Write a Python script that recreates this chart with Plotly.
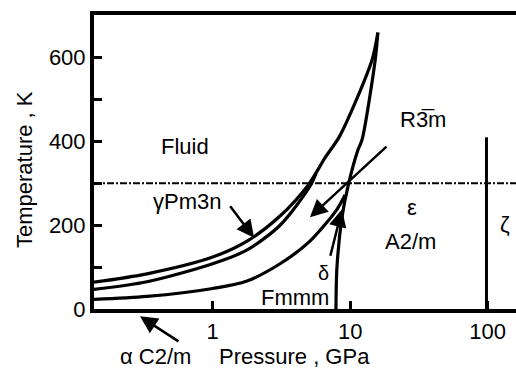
import numpy as np
import plotly.graph_objects as go

# Phase boundaries of solid oxygen (pressure in GPa, temperature in K)
P_MELT = [0.13, 0.333, 1.0, 1.78, 3.09, 4.93, 6.56, 8.43, 14.4, 15.9]
T_MELT = [63, 84, 124, 162, 222, 295, 361, 414, 594, 660]

P_GAMMA_BETA = [0.13, 0.333, 1.0, 1.78, 3.09, 5.1, 5.64]
T_GAMMA_BETA = [46, 65, 108, 141, 200, 293, 324]

P_ALPHA_BETA = [0.13, 0.333, 1.0, 1.78, 3.09, 5.1, 8.02, 9.17]
T_ALPHA_BETA = [22.5, 30, 49, 67, 108, 162, 238, 272]

P_EPSILON = [7.88, 8.02, 8.72, 9.64, 11.4, 12.2, 15.2, 15.9]
T_EPSILON = [0, 101, 219, 293, 380, 404, 594, 660]

P_ZETA = [98, 98]
T_ZETA = [0, 410]

T_ROOM = 300

# Arrow tips (P, T) for the labelled phase fields
GAMMA_TIP = (2.0, 170)
R3M_TIP = (5.1, 219)
DELTA_TIP = (8.72, 238)
ALPHA_TIP_P = 0.296

X_TICKS = [1, 10, 100]
X_TICK_TEXT = ["1", "10", "100"]

FONT = "Liberation Sans, Arial, sans-serif"
LW = 3.2

fig = go.Figure()

for px_, ty_ in [(P_MELT, T_MELT), (P_GAMMA_BETA, T_GAMMA_BETA),
                 (P_ALPHA_BETA, T_ALPHA_BETA), (P_EPSILON, T_EPSILON)]:
    fig.add_trace(go.Scatter(x=px_, y=ty_, mode="lines",
                             line=dict(color="black", width=LW, shape="spline", smoothing=0.8),
                             hoverinfo="skip"))

fig.add_trace(go.Scatter(x=P_ZETA, y=T_ZETA, mode="lines",
                         line=dict(color="black", width=3), hoverinfo="skip"))

fig.add_hline(y=T_ROOM, line=dict(color="black", width=2, dash="7px,2px,2px,2px"))

ann = []


def label(text, xp, yp, size=22, **kw):
    d = dict(text=text, x=xp, y=yp, xref="paper", yref="paper", showarrow=False,
             xanchor="center", yanchor="middle",
             font=dict(family=FONT, size=size, color="black"))
    d.update(kw)
    ann.append(d)


label("Fluid", 0.2156, 0.554)
label("γPm3n", 0.220, 0.364)
label("R3\u0305m", 0.780, 0.646)
label("ε", 0.754, 0.344)
label("A2/m", 0.749, 0.228)
label("ζ", 0.974, 0.286)
label("Fmmm", 0.476, 0.0408)
label("δ", 0.545, 0.1224, size=20)
label("α C2/m", 0.145, -0.163)
label("Pressure , GPa", 0.474, -0.163)
label("Temperature , K", -0.166, 0.476, textangle=-90)


def arrow(p, t, ax, ay, yref="y"):
    ann.append(dict(text="", x=np.log10(p), y=t, xref="x", yref=yref,
                    showarrow=True, arrowhead=2, arrowsize=1.4, arrowwidth=2.5,
                    arrowcolor="black", ax=ax, ay=ay, standoff=0))


arrow(GAMMA_TIP[0], GAMMA_TIP[1], -25, -33)
arrow(R3M_TIP[0], R3M_TIP[1], 78, -72)
arrow(DELTA_TIP[0], DELTA_TIP[1], -12, 48)
arrow(ALPHA_TIP_P, -0.025, 40, 26, yref="paper")

fig.update_layout(
    width=516, height=370,
    margin=dict(l=94, r=0, t=15, b=61),
    plot_bgcolor="white", paper_bgcolor="white",
    showlegend=False,
    font=dict(family=FONT, size=22, color="black"),
    annotations=ann,
    xaxis=dict(type="log", range=[-0.863, 2.206], showline=True, linewidth=4,
               linecolor="black", mirror=True, ticks="inside", ticklen=8,
               tickwidth=3, tickcolor="black", tickvals=X_TICKS, ticktext=X_TICK_TEXT,
               showgrid=False, zeroline=False),
    yaxis=dict(range=[0, 702], showline=True, linewidth=4, linecolor="black",
               ticks="inside", ticklen=8, tickwidth=3, tickcolor="black",
               tick0=0, dtick=200,
               minor=dict(dtick=100, ticks="inside", ticklen=8, tickwidth=3,
                          tickcolor="black", showgrid=False),
               showgrid=False, zeroline=False),
)

fig.write_html("out.html")
